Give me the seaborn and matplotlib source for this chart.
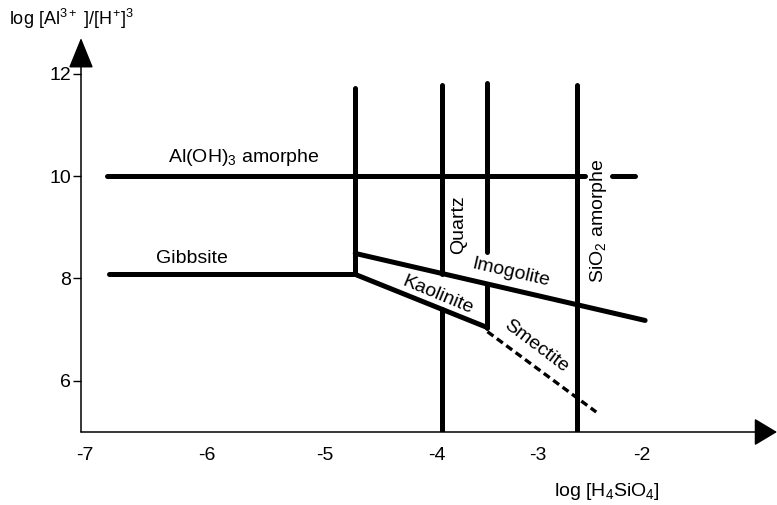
import numpy as np
import pandas as pd
import matplotlib
matplotlib.use("Agg")
import matplotlib.pyplot as plt
import seaborn as sns

sns.set_theme(style="white")
plt.rcParams['font.family'] = ['Liberation Sans', 'DejaVu Sans']
plt.rcParams['mathtext.default'] = 'regular'
plt.rcParams['text.color'] = 'black'

# ---- data (log H4SiO4 , log Al3+/H+^3) ----
x_ticks = [-7, -6, -5, -4, -3, -2]
y_ticks = [6, 8, 10, 12]

aloh3_x = [-6.82, -2.55]
aloh3_y = [10.0, 10.0]
aloh3_ext_x = [-2.29, -2.07]
aloh3_ext_y = [10.0, 10.0]
gibbsite_x = [-6.80, -4.73]
gibbsite_y = [8.08, 8.08]
kaolinite_x = [-4.73, -3.50]
kaolinite_y = [8.08, 7.04]
imogolite_x = [-4.73, -1.97]
imogolite_y = [8.49, 7.18]
v1_x = [-4.73, -4.73]
v1_y = [11.73, 8.08]
quartz_up_x = [-3.95, -3.95]
quartz_up_y = [11.78, 8.08]
quartz_low_x = [-3.95, -3.95]
quartz_low_y = [7.41, 5.0]
v2_up_x = [-3.50, -3.50]
v2_up_y = [11.82, 8.51]
v2_low_x = [-3.50, -3.50]
v2_low_y = [7.90, 7.04]
sio2_x = [-2.625, -2.625]
sio2_y = [11.78, 5.0]
smectite_x = [-3.50, -2.44]
smectite_y = [6.96, 5.39]

solid = {
    "aloh3": (aloh3_x, aloh3_y),
    "aloh3_ext": (aloh3_ext_x, aloh3_ext_y),
    "gibbsite": (gibbsite_x, gibbsite_y),
    "kaolinite": (kaolinite_x, kaolinite_y),
    "imogolite": (imogolite_x, imogolite_y),
    "v1": (v1_x, v1_y),
    "quartz_up": (quartz_up_x, quartz_up_y),
    "quartz_low": (quartz_low_x, quartz_low_y),
    "v2_up": (v2_up_x, v2_up_y),
    "v2_low": (v2_low_x, v2_low_y),
    "sio2": (sio2_x, sio2_y),
}
rows = []
for name, (xs, ys) in solid.items():
    for i, (xv, yv) in enumerate(zip(xs, ys)):
        rows.append({"seg": name, "order": i, "x": xv, "y": yv})
df = pd.DataFrame(rows)
df_sm = pd.DataFrame({"seg": "smectite", "x": smectite_x, "y": smectite_y})

# hand-drawn (non uniform) x axis of the original figure
cal_val = [-8, -7, -6, -5, -4, -3, -2, -1, 0]
cal_px = [-37, 85, 207, 325, 437, 538, 642, 746, 850]
def fwd(v):
    return np.interp(v, cal_val, cal_px)
def inv(p):
    return np.interp(p, cal_px, cal_val)

fig = plt.figure(figsize=(7.77, 5.05), dpi=100)
W, H = 777, 505
ax = fig.add_axes([81 / W, (H - 432) / H, (777 - 81) / W, (432 - 38) / H])

sns.lineplot(data=df, x="x", y="y", units="seg", estimator=None, sort=False,
             color="black", lw=3.6, ax=ax)
sns.lineplot(data=df_sm, x="x", y="y", units="seg", estimator=None, sort=False,
             color="black", lw=2.4, ax=ax)
ax.lines[-1].set_linestyle((0, (2.2, 1.3)))
ax.lines[-1].set_dash_capstyle("butt")

ax.set_xscale("function", functions=(fwd, inv))
ax.set_xlim(float(inv(81)), float(inv(777)))
ax.set_ylim(5.0, 12.7)
ax.set_xticks(x_ticks)
ax.set_xticklabels([f"-{abs(v)}" for v in x_ticks])
ax.set_yticks(y_ticks)
ax.set_yticklabels([str(v) for v in y_ticks])
ax.minorticks_off()
ax.set_xlabel("")
ax.set_ylabel("")
for s in ax.spines.values():
    s.set_visible(False)
ax.grid(False)
ax.tick_params(axis="x", bottom=True, length=0, pad=11, labelsize=14, labelcolor="black")
ax.tick_params(axis="y", left=True, length=5.5, width=1.0, pad=1.5, labelsize=14,
               color="black", labelcolor="black", direction="out")

# axes with arrow heads
ax.annotate("", xy=(0, 1), xytext=(0, 0), xycoords="axes fraction",
            arrowprops=dict(arrowstyle="-|>,head_length=1.6,head_width=0.65",
                            lw=1.1, color="black", shrinkA=0, shrinkB=0))
ax.annotate("", xy=(1, 0), xytext=(0, 0), xycoords="axes fraction",
            arrowprops=dict(arrowstyle="-|>,head_length=1.2,head_width=0.72",
                            lw=1.1, color="black", shrinkA=0, shrinkB=0))

fs = 14
kw = dict(ha="center", va="center", fontsize=fs, color="black", rotation_mode="anchor")
ax.text(-5.69, 10.37, "Al(OH)$_3$ amorphe", **kw)
ax.text(-6.12, 8.39, "Gibbsite", **kw)
ax.text(-3.79, 9.06, "Quartz", rotation=90, **kw)
ax.text(-2.42, 9.12, "SiO$_2$ amorphe", rotation=90, **kw)
ax.text(-3.27, 8.12, "Imogolite", rotation=-13, **kw)
ax.text(-3.99, 7.67, "Kaolinite", rotation=-22.6, **kw)
ax.text(-3.02, 6.67, "Smectite", rotation=-37, **kw)

fig.text(9 / W, 1 - 19 / H, "log [Al$^{3+}$ ]/[H$^{+}$]$^{3}$", ha="left", va="center",
         fontsize=13, color="black")
fig.text(607 / W, 1 - 492 / H, "log [H$_4$SiO$_4$]", ha="center", va="center",
         fontsize=14, color="black")

fig.savefig("out.png", dpi=100)
